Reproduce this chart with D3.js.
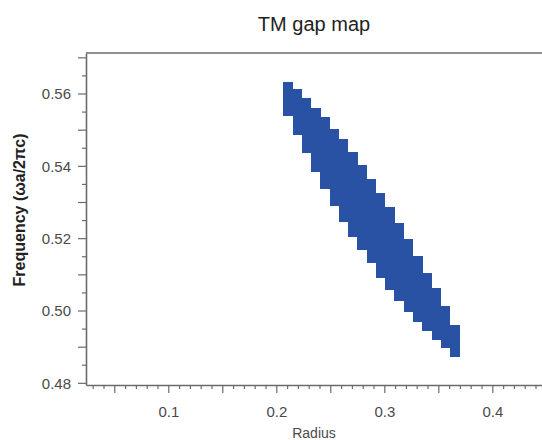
<!DOCTYPE html>
<html>
<head>
<meta charset="utf-8">
<script src="https://cdn.jsdelivr.net/npm/d3@7"></script>
<style>
  html, body { margin: 0; padding: 0; background: #fff; }
  svg { display: block; font-family: "Liberation Sans", Arial, sans-serif; }
</style>
</head>
<body>
<svg id="chart" width="542" height="440"></svg>
<script>
// ---- data ----
const title = "TM gap map";
const xLabel = "Radius";
const yLabel = "Frequency (\u03c9a/2\u03c0c)";
// radius of each column (centre) in the gap map
const radius = [0.2108, 0.2193, 0.2279, 0.2365, 0.2451, 0.2536, 0.2622, 0.2708, 0.2794, 0.2880,
                0.2965, 0.3051, 0.3137, 0.3223, 0.3309, 0.3394, 0.3480, 0.3566, 0.3652];
// upper edge of the band gap for each column
const gapTop = [0.5633, 0.5612, 0.5587, 0.5561, 0.5534, 0.5502, 0.5473, 0.5438, 0.5402, 0.5363,
                0.5326, 0.5287, 0.5243, 0.5198, 0.5150, 0.5105, 0.5063, 0.5013, 0.4961];
// lower edge of the band gap for each column
const gapBottom = [0.5538, 0.5485, 0.5435, 0.5382, 0.5335, 0.5289, 0.5245, 0.5204, 0.5167, 0.5132,
                   0.5091, 0.5056, 0.5026, 0.4996, 0.4969, 0.4944, 0.4918, 0.4895, 0.4872];
const xTickLabels = [0.1, 0.2, 0.3, 0.4];
const yTickLabels = [0.48, 0.50, 0.52, 0.54, 0.56];

(function () {
// ---- layout ----
const svg = d3.select("#chart");
const mLeft = 86, mRight = 542, mTop = 53, mBottom = 385;
const x = d3.scaleLinear().domain([0.0238, 0.4460]).range([mLeft, mRight]);
const y = d3.scaleLinear().domain([0.4794, 0.5712]).range([mBottom, mTop]);
const axisColor = "#6b6b6b";
const textColor = "#4a4a4a";

// cells
const dr = (radius[radius.length - 1] - radius[0]) / (radius.length - 1);
const cells = radius.map((r, i) => ({ r, lo: gapBottom[i], hi: gapTop[i] }));
svg.append("g").selectAll("rect").data(cells).join("rect")
  .attr("x", d => x(d.r - dr / 2))
  .attr("width", d => x(d.r + dr / 2) - x(d.r - dr / 2) + 0.3)
  .attr("y", d => y(d.hi))
  .attr("height", d => y(d.lo) - y(d.hi))
  .attr("fill", "#2952a5")
  .attr("shape-rendering", "crispEdges");

// x axis
const xTicks = d3.range(3, 45).map(v => v / 100);
const isLabelX = v => xTickLabels.some(t => Math.abs(t - v) < 1e-9);
const isMajorX = v => Math.abs(Math.round(v * 20) - v * 20) < 1e-9;
const gx = svg.append("g").attr("transform", `translate(0,${mBottom})`)
  .call(d3.axisBottom(x).tickValues(xTicks).tickSizeOuter(0)
    .tickFormat(v => isLabelX(v) ? d3.format(".1f")(v) : ""));
gx.select(".domain").attr("stroke", axisColor).attr("stroke-width", 1.6);
gx.selectAll(".tick line").attr("stroke", axisColor).attr("stroke-width", 1.2)
  .attr("y2", d => isMajorX(d) ? 8 : 4);
gx.selectAll(".tick text").attr("fill", textColor).attr("font-size", 15)
  .attr("font-family", "Liberation Sans, Arial, sans-serif").attr("dy", null).attr("y", 32);

// y axis
const yTicks = d3.range(0, 19).map(i => +(0.48 + i * 0.005).toFixed(3));
const isLabelY = v => yTickLabels.some(t => Math.abs(t - v) < 1e-9);
const isMajorY = v => Math.abs(Math.round(v * 100) - v * 100) < 1e-6;
const gy = svg.append("g").attr("transform", `translate(${mLeft},0)`)
  .call(d3.axisLeft(y).tickValues(yTicks).tickSizeOuter(0)
    .tickFormat(v => isLabelY(v) ? d3.format(".2f")(v) : ""));
gy.select(".domain").attr("stroke", axisColor).attr("stroke-width", 1.6);
gy.selectAll(".tick line").attr("stroke", axisColor).attr("stroke-width", 1.2)
  .attr("x2", d => isMajorY(d) ? -8 : -4);
gy.selectAll(".tick text").attr("fill", textColor).attr("font-size", 15)
  .attr("font-family", "Liberation Sans, Arial, sans-serif").attr("x", -15).attr("dy", "0.36em");

// top frame line
svg.append("line").attr("x1", mLeft).attr("x2", mRight).attr("y1", mTop).attr("y2", mTop)
  .attr("stroke", axisColor).attr("stroke-width", 1.6);

// titles
svg.append("text").attr("x", (mLeft + mRight) / 2).attr("y", 31).attr("text-anchor", "middle")
  .attr("font-size", 20).attr("fill", "#222").text(title);
svg.append("text").attr("x", (mLeft + mRight) / 2).attr("y", 438).attr("text-anchor", "middle")
  .attr("font-size", 14).attr("fill", textColor).text(xLabel);
svg.append("text").attr("transform", `translate(25,${210}) rotate(-90)`).attr("text-anchor", "middle")
  .attr("font-size", 16).attr("font-weight", "bold").attr("fill", "#222").text(yLabel);
})();
</script>
</body>
</html>
